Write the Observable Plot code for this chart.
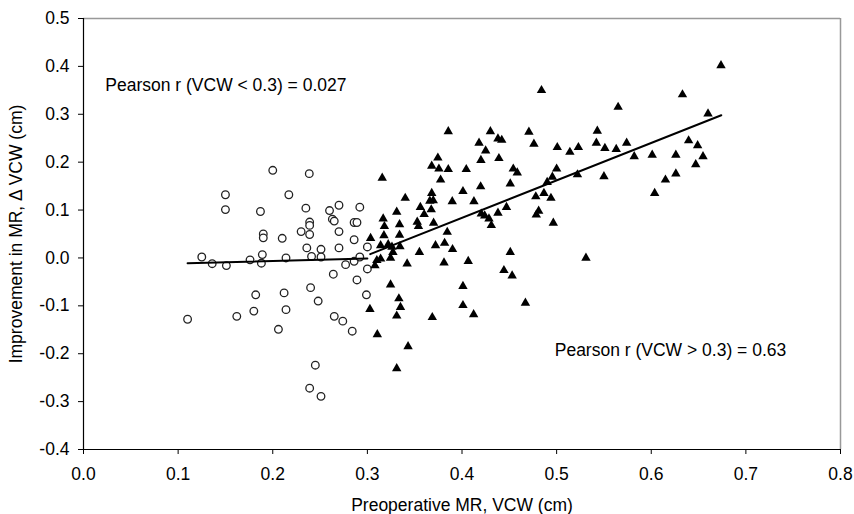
<!DOCTYPE html>
<html>
<head>
<meta charset="utf-8">
<script src="https://cdn.jsdelivr.net/npm/d3@7"></script>
<script src="https://cdn.jsdelivr.net/npm/@observablehq/plot@0.6"></script>
<style>
  html, body { margin: 0; padding: 0; background: #fff; }
</style>
</head>
<body>
<div id="chart"></div>
<script>
// Group VCW < 0.3 (open circles)
const lowX = [0.110,0.125,0.136,0.150,0.150,0.151,0.162,0.176,0.180,0.182,0.187,0.188,0.189,0.190,0.190,0.200,0.206,0.210,0.212,0.214,0.214,0.217,0.230,0.235,0.236,0.2386,0.239,0.239,0.239,0.239,0.240,0.241,0.245,0.248,0.251,0.251,0.251,0.260,0.263,0.265,0.264,0.265,0.270,0.270,0.270,0.274,0.277,0.284,0.286,0.289,0.286,0.286,0.289,0.292,0.292,0.299,0.300,0.300];
const lowY = [-0.128,0.002,-0.012,0.132,0.101,-0.016,-0.122,-0.004,-0.111,-0.077,0.097,-0.011,0.007,0.050,0.042,0.183,-0.149,0.041,-0.073,0.000,-0.108,0.132,0.055,0.104,0.021,0.176,0.075,0.068,0.049,-0.272,-0.062,0.003,-0.224,-0.090,0.018,0.002,-0.289,0.099,0.081,0.077,-0.034,-0.122,0.110,0.055,0.021,-0.132,-0.014,-0.153,0.074,0.074,0.038,-0.007,-0.046,0.106,0.002,-0.077,0.023,-0.023];

// Group VCW > 0.3 (filled triangles)
const highX = [0.3157,0.3855,0.430,0.418,0.425,0.420,0.438,0.442,0.3745,0.368,0.3756,0.3855,0.3774,0.4045,0.340,0.368,0.3696,0.366,0.356,0.3675,0.360,0.3897,0.401,0.4126,0.4197,0.331,0.3527,0.354,0.370,0.334,0.3167,0.318,0.334,0.3844,0.4204,0.424,0.4285,0.431,0.3034,0.3175,0.314,0.322,0.326,0.3344,0.327,0.314,0.3245,0.310,0.308,0.342,0.355,0.372,0.3816,0.390,0.381,0.4066,0.3245,0.3333,0.335,0.331,0.3027,0.3105,0.343,0.331,0.3686,0.401,0.401,0.4123,0.438,0.484,0.633,0.565,0.4707,0.476,0.543,0.542,0.551,0.563,0.574,0.582,0.601,0.626,0.6395,0.649,0.647,0.626,0.615,0.6036,0.550,0.522,0.523,0.514,0.5007,0.500,0.4955,0.490,0.4866,0.478,0.494,0.481,0.4785,0.4965,0.4542,0.4584,0.451,0.439,0.447,0.451,0.4443,0.453,0.467,0.531,0.6737,0.660,0.6547];
const highY = [0.167,0.264,0.264,0.240,0.224,0.204,0.249,0.246,0.209,0.192,0.186,0.185,0.163,0.185,0.125,0.135,0.120,0.119,0.106,0.101,0.091,0.118,0.139,0.118,0.149,0.096,0.075,0.066,0.073,0.070,0.082,0.066,0.048,0.054,0.092,0.088,0.082,0.068,0.041,0.047,0.026,0.028,0.023,0.024,0.012,-0.002,0.000,-0.005,-0.016,-0.012,0.012,0.026,0.031,0.018,-0.010,-0.007,-0.056,-0.085,-0.103,-0.121,-0.107,-0.160,-0.185,-0.231,-0.124,-0.059,-0.099,-0.118,0.094,0.350,0.341,0.315,0.263,0.238,0.265,0.240,0.229,0.227,0.240,0.212,0.215,0.215,0.245,0.235,0.195,0.176,0.163,0.135,0.170,0.174,0.231,0.221,0.231,0.186,0.169,0.158,0.135,0.128,0.125,0.098,0.090,0.073,0.186,0.178,0.155,0.208,0.106,0.012,-0.026,-0.037,-0.094,0.000,0.402,0.301,0.212];

// Fit lines (end points)
const fitLowX = [0.110, 0.300];
const fitLowY = [-0.011, -0.001];
const fitHighX = [0.303, 0.674];
const fitHighY = [0.008, 0.298];

// Tick values
const xTicks = [0.0,0.1,0.2,0.3,0.4,0.5,0.6,0.7,0.8];
const yTicks = [-0.4,-0.3,-0.2,-0.1,0.0,0.1,0.2,0.3,0.4,0.5];

const labelLow = "Pearson r (VCW < 0.3) = 0.027";
const labelHigh = "Pearson r (VCW > 0.3) = 0.63";
const xTitle = "Preoperative MR, VCW (cm)";
const yTitle = "Improvement in MR, \u0394 VCW (cm)";

const low = lowX.map((x, i) => ({x, y: lowY[i]}));
const high = highX.map((x, i) => ({x, y: highY[i]}));
const fitLow = fitLowX.map((x, i) => ({x, y: fitLowY[i]}));
const fitHigh = fitHighX.map((x, i) => ({x, y: fitHighY[i]}));

const fmt = d => (Math.abs(d) < 1e-9 ? 0 : d).toFixed(1);
const FS = 17.5;

const chart = Plot.plot({
  width: 854,
  height: 514,
  marginLeft: 83,
  marginRight: 14,
  marginTop: 18,
  marginBottom: 65,
  style: {fontFamily: "'Liberation Sans', Arial, sans-serif", fontSize: FS + "px", background: "#fff", color: "#000"},
  x: {domain: [0, 0.8]},
  y: {domain: [-0.4, 0.5]},
  marks: [
    Plot.ruleY([0.5], {stroke: "#999", strokeWidth: 1.5}),
    Plot.ruleX([0.8], {stroke: "#999", strokeWidth: 1.5}),
    Plot.axisX({ticks: xTicks, tickFormat: fmt, tickSize: 5, tickPadding: 13, label: null, fontSize: FS, stroke: "#000"}),
    Plot.axisY({ticks: yTicks, tickFormat: fmt, tickSize: 5, tickPadding: 9, label: null, fontSize: FS, stroke: "#000"}),
    Plot.ruleX([0], {stroke: "#000", strokeWidth: 1.2}),
    Plot.ruleY([-0.4], {stroke: "#000", strokeWidth: 1.2}),
    Plot.dot(low, {x: "x", y: "y", symbol: "circle", r: 3.8, stroke: "#222", strokeWidth: 1.3, fill: "#fff"}),
    Plot.line(fitLow, {x: "x", y: "y", stroke: "#000", strokeWidth: 2}),
    Plot.line(fitHigh, {x: "x", y: "y", stroke: "#000", strokeWidth: 2}),
    Plot.dot(high, {x: "x", y: "y", symbol: "triangle", r: 3.5, fill: "#000", stroke: "none"}),
    Plot.text([labelLow], {x: 0.023, y: 0.36, text: d => d, textAnchor: "start", fontSize: FS}),
    Plot.text([labelHigh], {x: 0.498, y: -0.193, text: d => d, textAnchor: "start", fontSize: FS}),
    Plot.text([xTitle], {frameAnchor: "bottom", dy: 56, lineAnchor: "middle", text: d => d, fontSize: FS}),
    Plot.text([yTitle], {frameAnchor: "left", dx: -67, rotate: -90, textAnchor: "middle", lineAnchor: "middle", text: d => d, fontSize: FS})
  ]
});
document.getElementById("chart").appendChild(chart);
</script>
</body>
</html>
